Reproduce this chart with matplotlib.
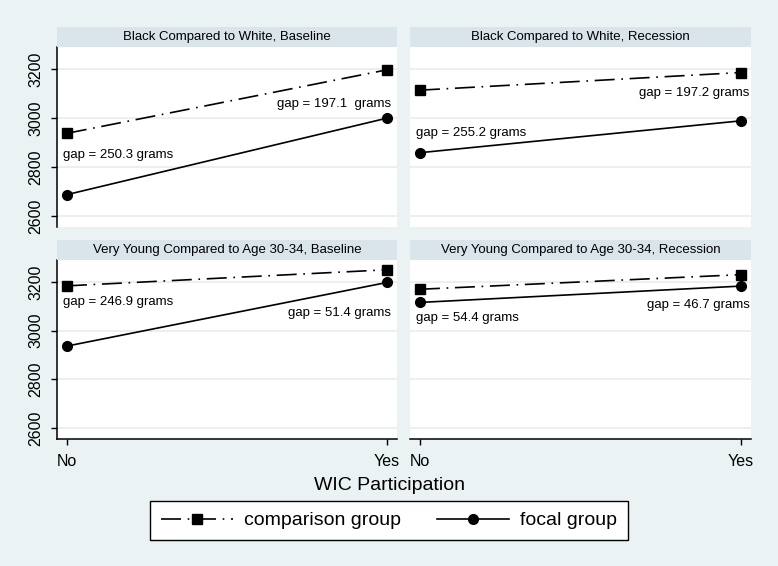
import matplotlib
matplotlib.use("Agg")
import matplotlib.pyplot as plt
from matplotlib.lines import Line2D

plt.rcParams['font.family'] = ['Liberation Sans', 'DejaVu Sans']

# ---- data ----
wic_levels = ["No", "Yes"]
panel_titles = [
    "Black Compared to White, Baseline",
    "Black Compared to White, Recession",
    "Very Young Compared to Age 30-34, Baseline",
    "Very Young Compared to Age 30-34, Recession",
]
comparison_group = [
    [2938, 3197],
    [3114, 3186],
    [3184, 3250],
    [3170, 3230],
]
focal_group = [
    [2688, 3000],
    [2859, 2989],
    [2937, 3198],
    [3116, 3183],
]
gap_no_labels = ["gap = 250.3 grams", "gap = 255.2 grams",
                 "gap = 246.9 grams", "gap = 54.4 grams"]
gap_yes_labels = ["gap = 197.1  grams", "gap = 197.2 grams",
                  "gap = 51.4 grams", "gap = 46.7 grams"]
gap_no_y = [2848, 2939, 3118, 3051]
gap_yes_y = [3057, 3102, 3071, 3105]
y_ticks = [2600, 2800, 3000, 3200]
legend_labels = ["comparison group", "focal group"]
x_title = "WIC Participation"

# ---- style ----
W, H = 778, 566
BG = "#eaf2f3"
STRIP = "#d9e5ea"
GRID = "#e6eef0"
DASHDOT = (0, (12, 4, 1, 4))

fig = plt.figure(figsize=(W / 100, H / 100), dpi=100, facecolor=BG)

def fx(px):
    return px / W

def fy(py):
    return 1 - py / H

panel_x = [(57, 397), (410, 751)]
panel_y = [(47, 227), (260, 439)]
strip_y = [(27, 47), (240, 260)]

for i in range(4):
    r, c = divmod(i, 2)
    x0, x1 = panel_x[c]
    y0, y1 = panel_y[r]
    ax = fig.add_axes([fx(x0), fy(y1), fx(x1 - x0), (y1 - y0) / H])
    ax.set_facecolor("white")
    xs = list(range(len(wic_levels)))
    ax.set_xlim(-0.031, 1.031)
    ax.set_ylim(2556, 3290)
    for yt in y_ticks:
        ax.axhline(yt, color=GRID, lw=1.2, zorder=0)
    ax.plot(xs, comparison_group[i], color="black", lw=1.2, ls=DASHDOT,
            marker="s", ms=6.5, zorder=3)
    ax.plot(xs, focal_group[i], color="black", lw=1.2, ls="-",
            marker="o", ms=7, zorder=3)
    ax.text(-0.012, gap_no_y[i], gap_no_labels[i],
            ha="left", va="center", fontsize=9.5)
    ax.text(1.012 if c == 0 else 1.026, gap_yes_y[i], gap_yes_labels[i],
            ha="right", va="center", fontsize=9.5)
    for s in ["top", "right"]:
        ax.spines[s].set_visible(False)
    ax.spines["left"].set_visible(c == 0)
    ax.spines["bottom"].set_visible(r == 1)
    ax.spines["left"].set_linewidth(1.1)
    ax.spines["bottom"].set_linewidth(1.1)
    if c == 0:
        ax.set_yticks(y_ticks)
        ax.set_yticklabels([str(v) for v in y_ticks], rotation=90,
                           va="center", fontsize=11.5)
        ax.tick_params(axis="y", length=4, width=1, pad=6)
    else:
        ax.set_yticks([])
    if r == 1:
        ax.set_xticks(xs)
        ax.set_xticklabels(wic_levels, fontsize=11.5)
        ax.tick_params(axis="x", length=4, width=1, pad=7)
    else:
        ax.set_xticks([])
    # strip
    sy0, sy1 = strip_y[r]
    sax = fig.add_axes([fx(x0), fy(sy1), fx(x1 - x0), (sy1 - sy0) / H])
    sax.set_facecolor(STRIP)
    sax.set_xticks([]); sax.set_yticks([])
    for s in sax.spines.values():
        s.set_visible(False)
    sax.text(0.5, 0.5, panel_titles[i], ha="center", va="center",
             fontsize=9.5, transform=sax.transAxes)

fig.text(0.5, fy(486), x_title, ha="center", va="center", fontsize=14)

handles = [
    Line2D([], [], color="black", lw=1.2, ls=DASHDOT, marker="s", ms=6.5),
    Line2D([], [], color="black", lw=1.2, ls="-", marker="o", ms=7),
]
leg = fig.legend(handles, legend_labels, loc="center",
                 bbox_to_anchor=(0.5, fy(520.5)), ncol=2, fontsize=14,
                 frameon=True, fancybox=False, edgecolor="black",
                 facecolor="white", framealpha=1, handlelength=3.7,
                 handletextpad=0.55, columnspacing=1.9, borderpad=0.55,
                 borderaxespad=0, numpoints=1)
leg.get_frame().set_linewidth(1.0)

fig.savefig("out.png", dpi=100, facecolor=BG)
